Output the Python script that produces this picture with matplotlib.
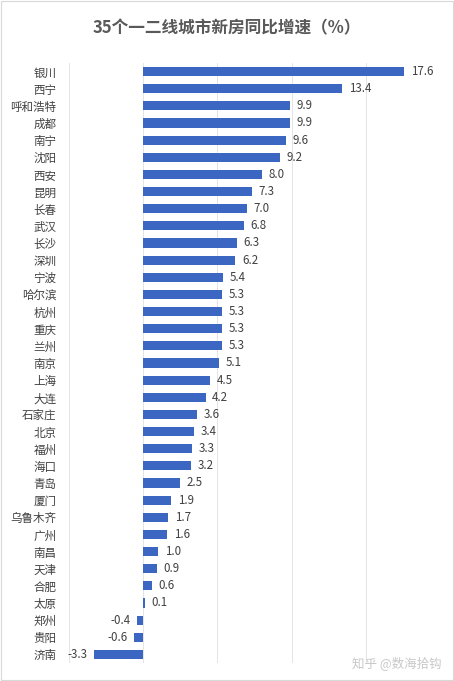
import matplotlib; matplotlib.use("Agg")
import matplotlib.pyplot as plt

plt.rcParams['font.family'] = ['Noto Sans CJK SC', 'DejaVu Sans']

cities = ["银川", "西宁", "呼和浩特", "成都", "南宁", "沈阳", "西安", "昆明", "长春", "武汉",
          "长沙", "深圳", "宁波", "哈尔滨", "杭州", "重庆", "兰州", "南京", "上海", "大连",
          "石家庄", "北京", "福州", "海口", "青岛", "厦门", "乌鲁木齐", "广州", "南昌", "天津",
          "合肥", "太原", "郑州", "贵阳", "济南"]
growth = [17.6, 13.4, 9.9, 9.9, 9.6, 9.2, 8.0, 7.3, 7.0, 6.8,
          6.3, 6.2, 5.4, 5.3, 5.3, 5.3, 5.3, 5.1, 4.5, 4.2,
          3.6, 3.4, 3.3, 3.2, 2.5, 1.9, 1.7, 1.6, 1.0, 0.9,
          0.6, 0.1, -0.4, -0.6, -3.3]

BAR = "#3B66C2"; INK = "#404040"

fig = plt.figure(figsize=(4.54, 6.81), dpi=100)
ax = fig.add_axes([69/454, 1 - 663/681, 371/454, 600/681])
y = list(range(len(cities)))
ax.barh(y, growth, height=0.53, color=BAR, zorder=2)
ax.set_xlim(-5, 20)
ax.set_ylim(len(cities) - 0.5, -0.5)
ax.set_xticks([-5, 0, 5, 10, 15, 20])
ax.set_xticklabels([])
ax.grid(axis="x", color="#e4e4e4", lw=0.7, zorder=0)
ax.tick_params(length=0)
ax.set_yticks(y)
ax.set_yticklabels(cities, fontsize=8.3, color=INK)
ax.tick_params(axis="y", pad=9)
for s in ax.spines.values():
    s.set_visible(False)

for i, v in enumerate(growth):
    if v >= 0:
        ax.text(v + 0.45, i, f"{v:.1f}", ha="left", va="center", fontsize=8.3, color=INK)
    else:
        ax.text(v - 0.45, i, f"{v:.1f}", ha="right", va="center", fontsize=8.3, color=INK)

fig.text(0.5, 1 - 28/681, "35个一二线城市新房同比增速（%）", ha="center", va="center",
         fontsize=12, fontweight="bold", color="#595959")
fig.text(1 - 12/454, 1 - 663/681, "知乎 @数海拾钩", ha="right", va="center",
         fontsize=9, color="#c8c8c8")
fig.patches.append(plt.Rectangle((0.002, 0.002), 0.996, 0.996, transform=fig.transFigure,
                                 fill=False, ec="#d9d9d9", lw=0.8))
fig.savefig("out.png", dpi=100, facecolor="white")
